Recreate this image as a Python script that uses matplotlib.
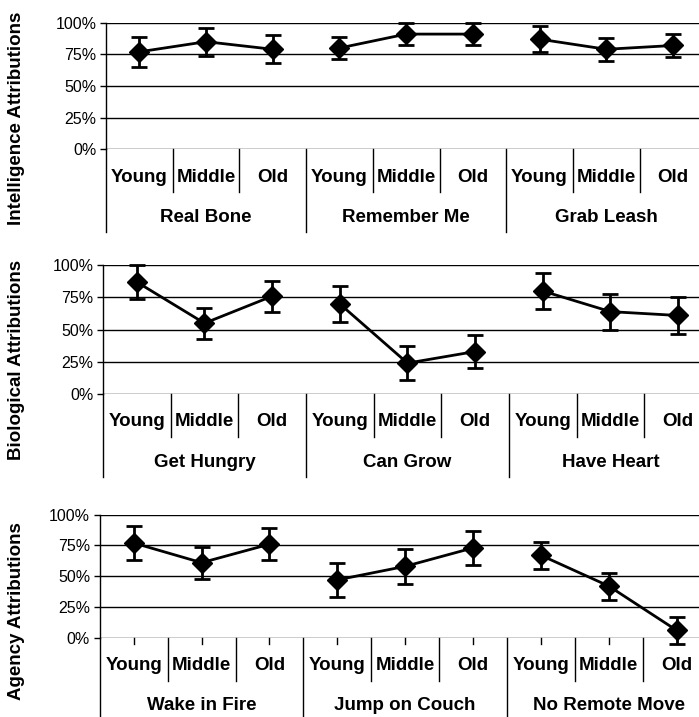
import numpy as np
import matplotlib.pyplot as plt
from matplotlib.ticker import PercentFormatter

plt.rcParams['font.family'] = ['Liberation Sans', 'DejaVu Sans']

ages = ['Young', 'Middle', 'Old']

intel_items = ['Real Bone', 'Remember Me', 'Grab Leash']
intel_mean = [[77, 85, 79], [80, 91, 91], [87, 79, 82]]
intel_err = [[12, 11, 11], [9, 9, 9], [10, 9, 9]]

bio_items = ['Get Hungry', 'Can Grow', 'Have Heart']
bio_mean = [[87, 55, 76], [70, 24, 33], [80, 64, 61]]
bio_err = [[13, 12, 12], [14, 13, 13], [14, 14, 14]]

agency_items = ['Wake in Fire', 'Jump on Couch', 'No Remote Move']
agency_mean = [[77, 61, 76], [47, 58, 73], [67, 42, 6]]
agency_err = [[14, 13, 13], [14, 14, 14], [11, 11, 11]]

W, H = 699, 717
fig = plt.figure(figsize=(W / 100, H / 100), dpi=100)


def panel(left, top, bottom, cell, items, means, errs, ylabel, label_y, center_ticks=False):
    h = bottom - top
    ax = fig.add_axes([left / W, 1 - bottom / H, 9 * cell / W, h / H])
    ax.set_xlim(0, 9)
    ax.set_ylim(0, 100)
    for s in ['top', 'right', 'bottom']:
        ax.spines[s].set_visible(False)
    ax.spines['left'].set_linewidth(1)
    ax.set_yticks([0, 25, 50, 75, 100])
    ax.yaxis.set_major_formatter(PercentFormatter(decimals=0))
    ax.tick_params(axis='y', direction='out', length=4, width=1, labelsize=11.5, pad=3)
    ax.set_xticks([])
    for v in [0, 25, 50, 75, 100]:
        ax.axhline(v, color='black', lw=1, zorder=1)

    for g in range(3):
        x = np.arange(3) + 3 * g + 0.5
        ax.errorbar(x, means[g], yerr=errs[g], color='black', lw=2, elinewidth=2,
                    capsize=6, capthick=2, marker='D', markersize=10, zorder=3,
                    clip_on=False)

    # category axis drawn below the plotting area
    px = 1.0 / h * 100  # one pixel in data units
    for b in range(10):
        ln = 83 if b % 3 == 0 else 43
        ax.plot([b, b], [0, -ln * px], color='black', lw=1, clip_on=False)
    if center_ticks:
        for c in range(9):
            ax.plot([c + 0.5, c + 0.5], [0, -6 * px], color='black', lw=1, clip_on=False)
    for c in range(9):
        ax.text(c + 0.5, -28 * px, ages[c % 3], ha='center', va='center',
                fontsize=13.5, fontweight='bold')
    for g in range(3):
        ax.text(3 * g + 1.5, -68 * px, items[g], ha='center', va='center',
                fontsize=13.5, fontweight='bold')

    fig.text(17 / W, 1 - label_y / H, ylabel, rotation=90, ha='center', va='center',
             fontsize=13.5, fontweight='bold')
    return ax


panel(106, 22.7, 149.3, 66.7, intel_items, intel_mean, intel_err,
      'Intelligence Attributions', 118)
panel(103, 265.3, 394, 67.66, bio_items, bio_mean, bio_err,
      'Biological Attributions', 360)
panel(99.8, 514.7, 637.7, 67.86, agency_items, agency_mean, agency_err,
      'Agency Attributions', 611, center_ticks=True)

fig.savefig('out.png', dpi=100)
